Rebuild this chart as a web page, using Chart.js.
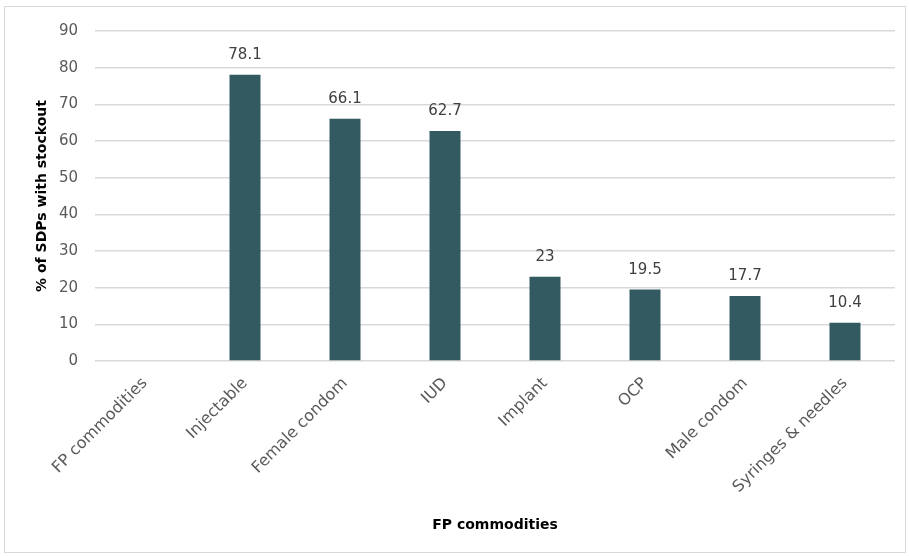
<!DOCTYPE html>
<html><head><meta charset="utf-8">
<script src="https://cdn.jsdelivr.net/npm/chart.js@4.4.1/dist/chart.umd.min.js"></script>
<style>
html,body{margin:0;padding:0;background:#fff;}
#wrap{position:relative;width:909px;height:556px;}
#frame{position:absolute;left:4px;top:6px;width:902px;height:547px;border:1px solid #d9d9d9;box-sizing:border-box;}
canvas{position:absolute;left:0;top:0;}
</style></head>
<body>
<div id="wrap"><div id="frame"></div><canvas id="c" width="909" height="556"></canvas></div>
<script>
const categories = ["FP commodities","Injectable","Female condom","IUD","Implant","OCP","Male condom","Syringes & needles"];
const stockoutPct = [null,78.1,66.1,62.7,23,19.5,17.7,10.4];
const yTicks = [0,10,20,30,40,50,60,70,80,90];

const FONT = "'DejaVu Sans', sans-serif";
const labelPlugin = {
  id:'barLabels',
  afterDatasetsDraw(chart){
    const ctx = chart.ctx;
    const meta = chart.getDatasetMeta(0);
    ctx.save();
    ctx.font = "15px " + FONT;
    ctx.fillStyle = "#404040";
    ctx.textAlign = "center";
    ctx.textBaseline = "bottom";
    meta.data.forEach((el,i)=>{
      const v = stockoutPct[i];
      if (v === null || v === undefined) return;
      ctx.fillText(String(v), el.x, el.y - 12);
    });
    ctx.restore();
  }
};

new Chart(document.getElementById('c'),{
  type:'bar',
  data:{labels:categories,datasets:[{data:stockoutPct,backgroundColor:'#335961',barPercentage:0.62,categoryPercentage:0.5}]},
  options:{
    responsive:false,animation:false,
    layout:{padding:{left:0,top:31,right:14,bottom:22}},
    plugins:{legend:{display:false},tooltip:{enabled:false}},
    scales:{
      y:{min:0,max:90,
        afterBuildTicks(s){s.ticks = yTicks.map(v=>({value:v}));},
        afterFit(s){s.width = 95;},
        grid:{color:'#d9d9d9',lineWidth:1.5,drawTicks:false},
        border:{display:false},
        ticks:{color:'#595959',font:{family:FONT,size:15},padding:17},
        title:{display:true,text:'% of SDPs with stockout',color:'#000',font:{family:FONT,size:14,weight:'bold'},padding:{top:34,bottom:0}}
      },
      x:{
        afterFit(s){s.height = 173;},
        grid:{display:false,drawTicks:false},
        border:{display:false},
        ticks:{color:'#595959',font:{family:FONT,size:16},minRotation:45,maxRotation:45,padding:13},
        title:{display:true,text:'FP commodities',color:'#000',font:{family:FONT,size:14,weight:'bold'},padding:0}
      }
    }
  },
  plugins:[labelPlugin]
});
</script>
</body></html>
